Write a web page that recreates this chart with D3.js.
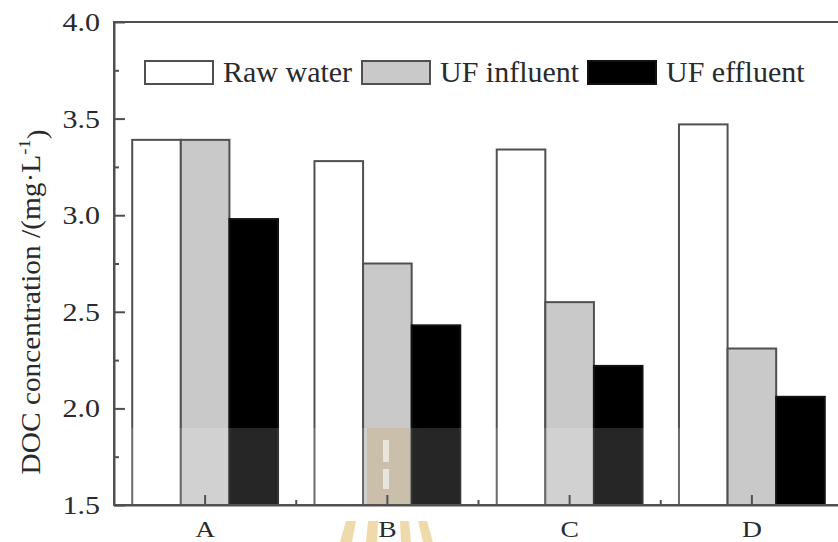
<!DOCTYPE html>
<html lang="en">
<head>
    <meta charset="UTF-8">
    <title>DOC concentration</title>
    <script src="https://d3js.org/d3.v7.min.js"></script>
    <style>
        body { margin: 0; background: #fff; }
        svg text { font-family: "Liberation Serif", "Times New Roman", serif; fill: #2a2a2a; }
    </style>
</head>
<body>
    <svg width="838" height="542"></svg>
    <script>
        // data
        const categories = ["A", "B", "C", "D"];
        const seriesNames = ["Raw water", "UF influent", "UF effluent"];
        const rawWater = [3.39, 3.28, 3.34, 3.47];
        const ufInfluent = [3.39, 2.75, 2.55, 2.31];
        const ufEffluent = [2.98, 2.43, 2.22, 2.06];
        const yTicks = [1.5, 2.0, 2.5, 3.0, 3.5, 4.0];
        const yMinorTicks = [1.75, 2.25, 2.75, 3.25, 3.75];

        const seriesValues = [rawWater, ufInfluent, ufEffluent];
        const fills = ["#ffffff", "#c9c9c9", "#000000"];
        const lineCol = "#505050";

        const svg = d3.select("svg");
        const plotL = 114, plotR = 843, plotT = 22, plotB = 505;

        const x = d3.scaleBand().domain(categories).range([plotL, plotR]);
        const bw = x.bandwidth();
        const xSub = d3.scaleBand().domain(seriesNames).range([0.1 * bw, 0.9 * bw]);
        const y = d3.scaleLinear().domain([1.5, 4.0]).range([plotB, plotT]);

        // bars
        const groups = svg.append("g").selectAll("g")
            .data(categories)
            .join("g")
            .attr("transform", d => `translate(${x(d)},0)`);

        groups.selectAll("rect")
            .data((c, i) => seriesNames.map((s, j) => ({ s: s, v: seriesValues[j][i], j: j })))
            .join("rect")
            .attr("x", d => xSub(d.s))
            .attr("y", d => y(d.v))
            .attr("width", xSub.bandwidth())
            .attr("height", d => y(1.5) - y(d.v))
            .attr("fill", d => fills[d.j])
            .attr("stroke", d => d.j === 2 ? "#111" : lineCol)
            .attr("stroke-width", 2);

        // faded band + watermark seen in the scan
        const wm = svg.append("g");
        wm.append("rect")
            .attr("x", plotL).attr("y", 428).attr("width", 682 - plotL).attr("height", plotB - 428)
            .attr("fill", "#fff").attr("opacity", 0.15);
        wm.append("rect")
            .attr("x", 367).attr("y", 428).attr("width", 43).attr("height", plotB - 428)
            .attr("fill", "#c8bca3").attr("opacity", 0.85);
        wm.append("rect")
            .attr("x", 383).attr("y", 440).attr("width", 6).attr("height", 22)
            .attr("fill", "#e9e5dc");
        wm.append("rect")
            .attr("x", 383).attr("y", 469).attr("width", 6).attr("height", 20)
            .attr("fill", "#e9e5dc");
        const quads = [
            [[346, 521], [356, 521], [352, 542], [340, 542]],
            [[368, 521], [378, 521], [377, 542], [366, 542]],
            [[400, 521], [409, 521], [411, 542], [401, 542]],
            [[418, 521], [427, 521], [433, 542], [423, 542]]
        ];
        wm.selectAll("polygon.q").data(quads).join("polygon")
            .attr("points", d => d.map(p => p.join(",")).join(" "))
            .attr("fill", "#ecd49c").attr("opacity", 0.85);

        // frame
        svg.append("rect")
            .attr("x", plotL).attr("y", plotT)
            .attr("width", plotR - plotL).attr("height", plotB - plotT)
            .attr("fill", "none").attr("stroke", lineCol).attr("stroke-width", 2);

        // y axis
        const yAxis = svg.append("g")
            .attr("transform", `translate(${plotL},0)`)
            .call(d3.axisLeft(y).tickValues(yTicks).tickSize(-11).tickSizeOuter(0)
                .tickFormat(d3.format(".1f")));
        yAxis.select(".domain").attr("stroke", lineCol).attr("stroke-width", 2);
        yAxis.selectAll(".tick line").attr("stroke", lineCol).attr("stroke-width", 2);
        yAxis.selectAll(".tick text")
            .attr("x", null).attr("dy", "0.34em")
            .attr("transform", "translate(-14,0) scale(1.2,1)")
            .style("font-size", "25px").attr("fill", "#333");

        svg.append("g")
            .attr("transform", `translate(${plotL},0)`)
            .call(d3.axisLeft(y).tickValues(yMinorTicks).tickSize(-5).tickSizeOuter(0).tickFormat(""))
            .call(g => g.select(".domain").remove())
            .selectAll(".tick line").attr("stroke", lineCol).attr("stroke-width", 2);

        // x axis
        const xAxis = svg.append("g")
            .attr("transform", `translate(0,${plotB})`)
            .call(d3.axisBottom(x).tickSize(-10).tickSizeOuter(0).tickPadding(0));
        xAxis.select(".domain").attr("stroke", lineCol).attr("stroke-width", 2);
        xAxis.selectAll(".tick line").attr("stroke", lineCol).attr("stroke-width", 2);
        xAxis.selectAll(".tick text")
            .attr("y", 32).attr("dy", null)
            .attr("transform", "scale(1.15,1)")
            .style("font-size", "24px").attr("fill", "#333");

        svg.append("g").selectAll("line")
            .data(categories.slice(1))
            .join("line")
            .attr("x1", d => x(d)).attr("x2", d => x(d))
            .attr("y1", plotB).attr("y2", plotB - 5)
            .attr("stroke", lineCol).attr("stroke-width", 2);

        // y label
        const yLab = svg.append("text")
            .attr("transform", "translate(40,302) rotate(-90)")
            .attr("text-anchor", "middle")
            .style("font-size", "27px");
        yLab.append("tspan").text("DOC concentration /(mg·L");
        yLab.append("tspan").attr("dy", "-0.6em").style("font-size", "17px").text("-1");
        yLab.append("tspan").attr("dy", "0.6em").text(")");
        const len = yLab.node().getComputedTextLength();
        yLab.attr("transform", `translate(40,302) rotate(-90) scale(${345 / len},1)`);

        // legend
        const legendX = [145, 362, 588];
        const legend = svg.append("g").selectAll("g")
            .data(seriesNames)
            .join("g")
            .attr("transform", (d, i) => `translate(${legendX[i]},61)`);
        legend.append("rect")
            .attr("width", 68).attr("height", 23)
            .attr("fill", (d, i) => fills[i])
            .attr("stroke", (d, i) => i === 2 ? "#111" : lineCol)
            .attr("stroke-width", 2);
        legend.append("text")
            .attr("x", 78).attr("y", 21)
            .style("font-size", "30px").attr("fill", "#333")
            .text(d => d);
    </script>
</body>
</html>
